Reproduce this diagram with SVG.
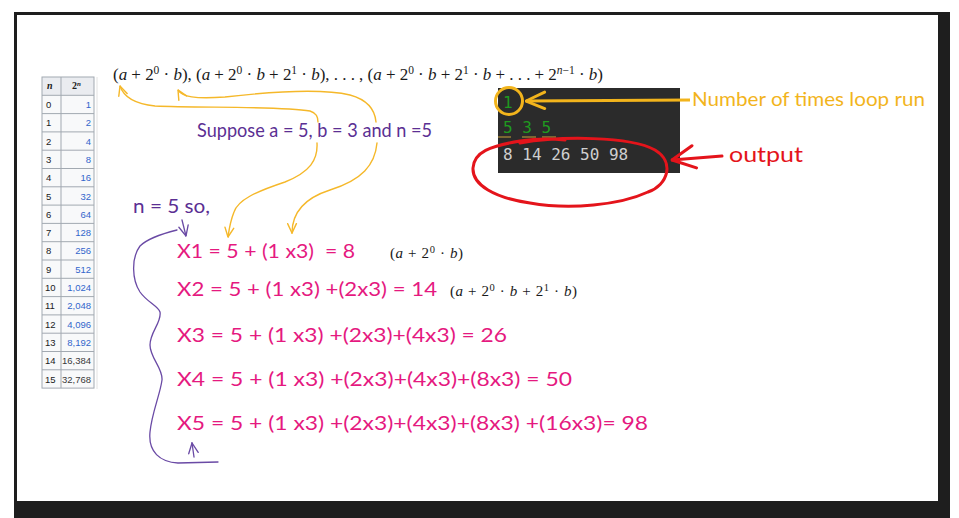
<svg xmlns="http://www.w3.org/2000/svg" width="959" height="518" viewBox="0 0 959 518">
<defs>
<style>
.hand{font-family:Lato,"Open Sans",sans-serif;white-space:pre}
.pk{fill:#e5197f;font-size:19px}
.pu{fill:#5b2f93;font-size:20px}
.math{font-family:"Liberation Serif",serif;fill:#1a1a1a}
.it{font-style:italic}
.tb{font-family:"Liberation Sans",Arial,sans-serif;font-size:9.5px}
.tn{fill:#202122}
.tv{fill:#3366cc;text-anchor:end}
.grid{stroke:#a2a9b1;stroke-width:1;fill:none}
.mono{font-family:"DejaVu Sans Mono",monospace;font-size:16px}
.yl{stroke:#f5b82a;stroke-width:1.4;fill:none;stroke-linecap:round}
.pl{stroke:#6a4aa5;stroke-width:1.3;fill:none;stroke-linecap:round}
</style>
<marker id="ay" viewBox="0 0 10 10" refX="9.5" refY="5" markerWidth="11" markerHeight="11" markerUnits="userSpaceOnUse" orient="auto"><path d="M1,1 L9.5,5 L1,9" fill="none" stroke="#f5b82a" stroke-width="1.3" stroke-linecap="round"/></marker>
<marker id="ayb" viewBox="0 0 10 10" refX="9.5" refY="5" markerWidth="22" markerHeight="22" markerUnits="userSpaceOnUse" orient="auto"><path d="M1,1.5 L9.5,5 L1,9" fill="none" stroke="#f2b41c" stroke-width="1.3" stroke-linecap="round"/></marker>
<marker id="ap" viewBox="0 0 10 10" refX="9.5" refY="5" markerWidth="12" markerHeight="12" markerUnits="userSpaceOnUse" orient="auto"><path d="M1,1 L9.5,5 L1,9" fill="none" stroke="#6a4aa5" stroke-width="1.1" stroke-linecap="round"/></marker>
<marker id="ar" viewBox="0 0 10 10" refX="9.5" refY="5" markerWidth="28" markerHeight="28" markerUnits="userSpaceOnUse" orient="auto"><path d="M1,1.5 L9.5,5 L2,9.5" fill="none" stroke="#e4141b" stroke-width="1.1" stroke-linecap="round"/></marker>
</defs>

<g id="frame">
<rect x="14" y="12" width="936" height="506" fill="#1e1e1e"/>
<rect x="17" y="15" width="921" height="486" fill="#ffffff"/>
</g>

<g id="table" class="tb">
<line x1="97" y1="77" x2="97" y2="389" stroke="#e2e2e2" stroke-width="1"/>
<rect x="42" y="77" width="52" height="18.3" fill="#eaecf0"/>
<rect x="42" y="95.3" width="52" height="292.8" fill="#f8f9fa"/>
<rect x="42" y="77" width="52" height="311.1" class="grid"/>
<line x1="61" y1="77" x2="61" y2="388.1" class="grid"/>
<path class="grid" d="M42,95.3H94M42,113.6H94M42,131.9H94M42,150.2H94M42,168.5H94M42,186.8H94M42,205.1H94M42,223.4H94M42,241.7H94M42,260H94M42,278.3H94M42,296.6H94M42,314.9H94M42,333.2H94M42,351.5H94M42,369.8H94"/>
<text x="47" y="89" class="tn" font-weight="bold" font-style="italic" font-family="Liberation Serif,serif" font-size="10">n</text>
<text x="72" y="89" class="tn" font-weight="bold" font-family="Liberation Serif,serif" font-size="10">2<tspan dy="-3" font-size="7" font-style="italic">n</tspan></text>
<g class="tn">
<text x="46" y="108">0</text><text x="46" y="126.3">1</text><text x="46" y="144.6">2</text><text x="46" y="162.9">3</text>
<text x="46" y="181.2">4</text><text x="46" y="199.5">5</text><text x="46" y="217.8">6</text><text x="46" y="236.1">7</text>
<text x="46" y="254.4">8</text><text x="46" y="272.7">9</text><text x="45" y="291">10</text><text x="45" y="309.3">11</text>
<text x="45" y="327.6">12</text><text x="45" y="345.9">13</text><text x="45" y="364.2">14</text><text x="45" y="382.5">15</text>
</g>
<g class="tv">
<text x="91" y="108">1</text><text x="91" y="126.3">2</text><text x="91" y="144.6">4</text><text x="91" y="162.9">8</text>
<text x="91" y="181.2">16</text><text x="91" y="199.5">32</text><text x="91" y="217.8">64</text><text x="91" y="236.1">128</text>
<text x="91" y="254.4">256</text><text x="91" y="272.7">512</text><text x="91" y="291">1,024</text><text x="91" y="309.3">2,048</text>
<text x="91" y="327.6">4,096</text><text x="91" y="345.9">8,192</text><text x="91" y="364.2" fill="#3a3a3a">16,384</text><text x="91" y="382.5" fill="#3a3a3a">32,768</text>
</g>
</g>

<g id="formula">
<text x="113" y="80" class="math" font-size="17" textLength="490" lengthAdjust="spacing">(<tspan class="it">a</tspan> + 2<tspan dy="-6" font-size="11.5">0</tspan><tspan dy="6"> · </tspan><tspan class="it">b</tspan>), (<tspan class="it">a</tspan> + 2<tspan dy="-6" font-size="11.5">0</tspan><tspan dy="6"> · </tspan><tspan class="it">b</tspan> + 2<tspan dy="-6" font-size="11.5">1</tspan><tspan dy="6"> · </tspan><tspan class="it">b</tspan>), . . . , (<tspan class="it">a</tspan> + 2<tspan dy="-6" font-size="11.5">0</tspan><tspan dy="6"> · </tspan><tspan class="it">b</tspan> + 2<tspan dy="-6" font-size="11.5">1</tspan><tspan dy="6"> · </tspan><tspan class="it">b</tspan> + . . . + 2<tspan dy="-6" font-size="11.5"><tspan class="it">n</tspan>−1</tspan><tspan dy="6"> · </tspan><tspan class="it">b</tspan>)</text>
</g>

<g id="terminal">
<rect x="498" y="88" width="182" height="85" fill="#2b2b2b"/>
<text x="503" y="108" class="mono" fill="#1f9a1f">1</text>
<text x="503" y="133" class="mono" fill="#1f9a1f">5 3 5</text>
<path d="M498,137H511M522,137H536M542,137H556" stroke="#c9a23a" stroke-width="1.2"/>
<text x="503" y="160" class="mono" fill="#cfcfcf">8 14 26 50 98</text>
<circle cx="509" cy="101" r="13.5" fill="none" stroke="#f2b41c" stroke-width="3"/>
</g>

<g id="loop-label">
<text x="692" y="106" class="hand" font-size="19" fill="#f2b41c" textLength="233" lengthAdjust="spacingAndGlyphs">Number of times loop run</text>
</g>

<g id="output-label">
<path d="M520,143 C560,136 630,136 655,150 C675,162 668,185 648,192 C620,205 570,210 530,203 C495,198 472,185 473,168 C474,152 490,146 520,141 C540,138 555,139 565,140" fill="none" stroke="#e4141b" stroke-width="3" stroke-linecap="round"/>
<text x="729" y="162" class="hand" font-size="22" fill="#e4141b" textLength="74" lengthAdjust="spacingAndGlyphs">output</text>
</g>

<g id="suppose">
<text x="197" y="137" class="hand pu" textLength="235" lengthAdjust="spacingAndGlyphs">Suppose a = 5, b = 3 and n =5</text>
</g>

<g id="n5so">
<text x="133" y="213" class="hand pu" font-size="19" textLength="77" lengthAdjust="spacingAndGlyphs">n = 5 so,</text>
</g>

<g id="equations">
<text x="177" y="258" class="hand pk" textLength="178" lengthAdjust="spacingAndGlyphs">X1 = 5 + (1 x3)  = 8</text>
<text x="390" y="258" class="math" font-size="15" fill="#333" textLength="73" lengthAdjust="spacing">(<tspan class="it">a</tspan> + 2<tspan dy="-5" font-size="10.5">0</tspan><tspan dy="5"> · </tspan><tspan class="it">b</tspan>)</text>
<text x="177" y="296" class="hand pk" textLength="260" lengthAdjust="spacingAndGlyphs">X2 = 5 + (1 x3) +(2x3) = 14</text>
<text x="450" y="296" class="math" font-size="15" fill="#333" textLength="127" lengthAdjust="spacing">(<tspan class="it">a</tspan> + 2<tspan dy="-5" font-size="10.5">0</tspan><tspan dy="5"> · </tspan><tspan class="it">b</tspan> + 2<tspan dy="-5" font-size="10.5">1</tspan><tspan dy="5"> · </tspan><tspan class="it">b</tspan>)</text>
<text x="177" y="342" class="hand pk" textLength="330" lengthAdjust="spacingAndGlyphs">X3 = 5 + (1 x3) +(2x3)+(4x3) = 26</text>
<text x="177" y="386" class="hand pk" textLength="395" lengthAdjust="spacingAndGlyphs">X4 = 5 + (1 x3) +(2x3)+(4x3)+(8x3) = 50</text>
<text x="177" y="430" class="hand pk" textLength="471" lengthAdjust="spacingAndGlyphs">X5 = 5 + (1 x3) +(2x3)+(4x3)+(8x3) +(16x3)= 98</text>
</g>

<g id="connectors">
<path class="yl" d="M318,122 C318,116 316,113 310,111 C280,106 200,108 155,106 C135,104 124,98 120,86" marker-end="url(#ay)"/>
<path class="yl" d="M317,143 C318,160 310,172 285,182 C255,192 238,200 234,212 C230,222 229,230 228,237" marker-end="url(#ay)"/>
<path class="yl" d="M376,122 C375,110 368,100 350,95 C320,88 260,93 225,97 C195,99 182,97 178,90" marker-end="url(#ay)"/>
<path class="yl" d="M377,143 C375,165 362,180 330,190 C305,198 292,212 292,233" marker-end="url(#ay)"/>
<path d="M690,100 L526,101" stroke="#f2b41c" stroke-width="3" fill="none" marker-end="url(#ayb)"/>
<path d="M722,156 L672,160" stroke="#e4141b" stroke-width="3" fill="none" stroke-linecap="round" marker-end="url(#ar)"/>
<path class="pl" d="M182,220 L186,236" marker-end="url(#ap)"/>
<path class="pl" d="M194,457 L192,443" marker-end="url(#ap)"/>
<path class="pl" d="M177,230 C165,233 148,238 140,246 C131,258 132,280 140,292 C147,302 158,306 160,312 C162,322 150,332 150,345 C150,358 163,368 162,380 C160,395 152,412 150,432 C148,452 160,462 178,463 L218,462"/>
</g>
</svg>
